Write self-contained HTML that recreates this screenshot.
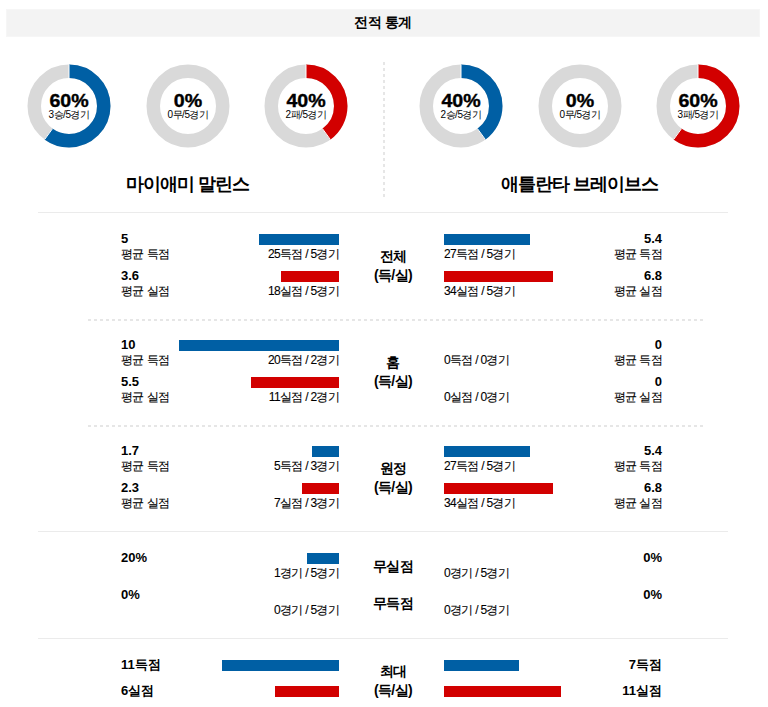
<!DOCTYPE html>
<html><head><meta charset="utf-8"><style>
html,body{margin:0;padding:0;background:#fff;}
body{width:768px;height:707px;overflow:hidden;position:relative;font-family:"Liberation Sans",sans-serif;color:#000;}
.a{position:absolute;white-space:nowrap;}
.hdr{left:6px;top:9px;width:754px;height:28px;background:#f3f3f3;border:1px solid #f6f6f6;box-sizing:border-box;}
.ttl{left:6px;width:754px;top:8px;height:28px;line-height:28px;text-align:center;font-weight:bold;font-size:14px;letter-spacing:-0.5px;}
.pct{font-weight:bold;font-size:19.6px;transform:scaleY(0.895);-webkit-text-stroke:0.4px #000;text-align:center;width:100px;line-height:20px;}
.sub{font-size:10px;letter-spacing:-0.5px;text-align:center;width:100px;line-height:12px;}
.team{font-weight:bold;font-size:18px;letter-spacing:-1px;text-align:center;width:300px;line-height:20px;}
.hl{left:38px;width:690px;height:1px;background:#ebebeb;}
.dl{left:88px;width:616px;height:2px;background:repeating-linear-gradient(to right,#e6e6e6 0 3px,transparent 3px 6px);}
.vd{left:383px;top:62px;width:2px;height:135px;background:repeating-linear-gradient(to bottom,#e6e6e6 0 3px,transparent 3px 6px);}
.val{font-weight:bold;font-size:13px;line-height:15px;}
.lab{font-size:12px;line-height:14px;letter-spacing:-0.6px;-webkit-text-stroke:0.1px #000;}
.bl{font-size:12px;line-height:14px;letter-spacing:-0.7px;-webkit-text-stroke:0.1px #000;}
.bar{height:11px;}
.b{background:#005fa4;}
.r{background:#d20000;}
.cen{font-weight:bold;font-size:14px;line-height:19px;letter-spacing:-0.6px;text-align:center;width:100px;left:343px;}
.L{left:121px;}
.R{right:106px;text-align:right;}
.BL{right:429px;text-align:right;}
.BR{left:444px;}
</style></head><body>
<div class="a hdr"></div>
<div class="a ttl">전적 통계</div>

<svg class="a" style="left:0;top:0" width="768" height="707"><circle cx="69" cy="106" r="34.75" fill="none" stroke="#d9d9d9" stroke-width="13.5"/><circle cx="69" cy="106" r="34.75" fill="none" stroke="#005fa4" stroke-width="13.5" stroke-dasharray="131.004 218.341" transform="rotate(-90 69 106)"/><line x1="69.00" y1="78.00" x2="69.00" y2="64.50" stroke="#fff" stroke-width="1"/><line x1="52.54" y1="128.65" x2="44.61" y2="139.57" stroke="#fff" stroke-width="1"/><circle cx="188" cy="106" r="34.75" fill="none" stroke="#d9d9d9" stroke-width="13.5"/><circle cx="306" cy="106" r="34.75" fill="none" stroke="#d9d9d9" stroke-width="13.5"/><circle cx="306" cy="106" r="34.75" fill="none" stroke="#d20000" stroke-width="13.5" stroke-dasharray="87.336 218.341" transform="rotate(-90 306 106)"/><line x1="306.00" y1="78.00" x2="306.00" y2="64.50" stroke="#fff" stroke-width="1"/><line x1="322.46" y1="128.65" x2="330.39" y2="139.57" stroke="#fff" stroke-width="1"/><circle cx="461" cy="106" r="34.75" fill="none" stroke="#d9d9d9" stroke-width="13.5"/><circle cx="461" cy="106" r="34.75" fill="none" stroke="#005fa4" stroke-width="13.5" stroke-dasharray="87.336 218.341" transform="rotate(-90 461 106)"/><line x1="461.00" y1="78.00" x2="461.00" y2="64.50" stroke="#fff" stroke-width="1"/><line x1="477.46" y1="128.65" x2="485.39" y2="139.57" stroke="#fff" stroke-width="1"/><circle cx="580" cy="106" r="34.75" fill="none" stroke="#d9d9d9" stroke-width="13.5"/><circle cx="698" cy="106" r="34.75" fill="none" stroke="#d9d9d9" stroke-width="13.5"/><circle cx="698" cy="106" r="34.75" fill="none" stroke="#d20000" stroke-width="13.5" stroke-dasharray="131.004 218.341" transform="rotate(-90 698 106)"/><line x1="698.00" y1="78.00" x2="698.00" y2="64.50" stroke="#fff" stroke-width="1"/><line x1="681.54" y1="128.65" x2="673.61" y2="139.57" stroke="#fff" stroke-width="1"/></svg>
<div class="a pct" style="left:19px;top:91px">60%</div>
<div class="a sub" style="left:19px;top:109px">3승/5경기</div>
<div class="a pct" style="left:138px;top:91px">0%</div>
<div class="a sub" style="left:138px;top:109px">0무/5경기</div>
<div class="a pct" style="left:256px;top:91px">40%</div>
<div class="a sub" style="left:256px;top:109px">2패/5경기</div>
<div class="a pct" style="left:411px;top:91px">40%</div>
<div class="a sub" style="left:411px;top:109px">2승/5경기</div>
<div class="a pct" style="left:530px;top:91px">0%</div>
<div class="a sub" style="left:530px;top:109px">0무/5경기</div>
<div class="a pct" style="left:648px;top:91px">60%</div>
<div class="a sub" style="left:648px;top:109px">3패/5경기</div>
<div class="a team" style="left:38px;top:174px">마이애미 말린스</div>
<div class="a team" style="left:430px;top:174px">애틀란타 브레이브스</div>
<div class="a vd"></div>
<div class="a hl" style="top:212px"></div>
<div class="a hl" style="top:531px"></div>
<div class="a hl" style="top:638px"></div>
<div class="a dl" style="top:319px"></div>
<div class="a dl" style="top:425px"></div>
<div class="a val L" style="top:231px">5</div>
<div class="a lab L" style="top:247px">평균 득점</div>
<div class="a bar b" style="left:259px;top:234px;width:80px;"></div>
<div class="a bl BL" style="top:247px">25득점 / 5경기</div>
<div class="a val L" style="top:268px">3.6</div>
<div class="a lab L" style="top:284px">평균 실점</div>
<div class="a bar b" style="left:281px;top:271px;width:58px;background:#d20000"></div>
<div class="a bl BL" style="top:284px">18실점 / 5경기</div>
<div class="a val R" style="top:231px">5.4</div>
<div class="a lab R" style="top:247px">평균 득점</div>
<div class="a bar b" style="left:444px;top:234px;width:86px;"></div>
<div class="a bl BR" style="top:247px">27득점 / 5경기</div>
<div class="a val R" style="top:268px">6.8</div>
<div class="a lab R" style="top:284px">평균 실점</div>
<div class="a bar b" style="left:444px;top:271px;width:109px;background:#d20000"></div>
<div class="a bl BR" style="top:284px">34실점 / 5경기</div>
<div class="a cen" style="top:247px">전체<br>(득/실)</div>
<div class="a val L" style="top:337px">10</div>
<div class="a lab L" style="top:353px">평균 득점</div>
<div class="a bar b" style="left:179px;top:340px;width:160px;"></div>
<div class="a bl BL" style="top:353px">20득점 / 2경기</div>
<div class="a val L" style="top:374px">5.5</div>
<div class="a lab L" style="top:390px">평균 실점</div>
<div class="a bar b" style="left:251px;top:377px;width:88px;background:#d20000"></div>
<div class="a bl BL" style="top:390px">11실점 / 2경기</div>
<div class="a val R" style="top:337px">0</div>
<div class="a lab R" style="top:353px">평균 득점</div>
<div class="a bl BR" style="top:353px">0득점 / 0경기</div>
<div class="a val R" style="top:374px">0</div>
<div class="a lab R" style="top:390px">평균 실점</div>
<div class="a bl BR" style="top:390px">0실점 / 0경기</div>
<div class="a cen" style="top:353px">홈<br>(득/실)</div>
<div class="a val L" style="top:443px">1.7</div>
<div class="a lab L" style="top:459px">평균 득점</div>
<div class="a bar b" style="left:312px;top:446px;width:27px;"></div>
<div class="a bl BL" style="top:459px">5득점 / 3경기</div>
<div class="a val L" style="top:480px">2.3</div>
<div class="a lab L" style="top:496px">평균 실점</div>
<div class="a bar b" style="left:302px;top:483px;width:37px;background:#d20000"></div>
<div class="a bl BL" style="top:496px">7실점 / 3경기</div>
<div class="a val R" style="top:443px">5.4</div>
<div class="a lab R" style="top:459px">평균 득점</div>
<div class="a bar b" style="left:444px;top:446px;width:86px;"></div>
<div class="a bl BR" style="top:459px">27득점 / 5경기</div>
<div class="a val R" style="top:480px">6.8</div>
<div class="a lab R" style="top:496px">평균 실점</div>
<div class="a bar b" style="left:444px;top:483px;width:109px;background:#d20000"></div>
<div class="a bl BR" style="top:496px">34실점 / 5경기</div>
<div class="a cen" style="top:459px">원정<br>(득/실)</div>
<div class="a val L" style="top:550px">20%</div>
<div class="a bar b" style="left:307px;top:553px;width:32px"></div>
<div class="a bl BL" style="top:566px">1경기 / 5경기</div>
<div class="a val L" style="top:587px">0%</div>
<div class="a bl BL" style="top:603px">0경기 / 5경기</div>
<div class="a val R" style="top:550px">0%</div>
<div class="a bl BR" style="top:566px">0경기 / 5경기</div>
<div class="a val R" style="top:587px">0%</div>
<div class="a bl BR" style="top:603px">0경기 / 5경기</div>
<div class="a cen" style="top:557px">무실점</div>
<div class="a cen" style="top:594px">무득점</div>
<div class="a val L" style="top:657px">11득점</div>
<div class="a bar b" style="left:222px;top:660px;width:117px"></div>
<div class="a val L" style="top:683px">6실점</div>
<div class="a bar r" style="left:275px;top:686px;width:64px"></div>
<div class="a val R" style="top:657px">7득점</div>
<div class="a bar b" style="left:444px;top:660px;width:75px"></div>
<div class="a val R" style="top:683px">11실점</div>
<div class="a bar r" style="left:444px;top:686px;width:117px"></div>
<div class="a cen" style="top:662px">최대<br>(득/실)</div>
</body></html>
